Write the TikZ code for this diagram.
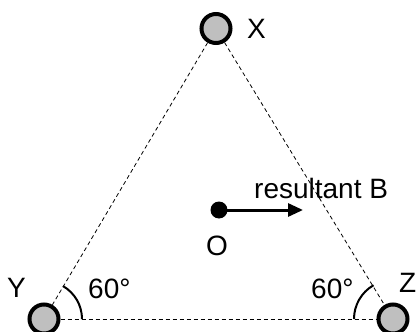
\documentclass[tikz,border=0pt]{standalone}
\usepackage{fontspec}
\setmainfont{Liberation Sans}
\usetikzlibrary{arrows.meta}
\begin{document}
\begin{tikzpicture}[x=1pt,y=-1pt,
  atom/.style={circle,draw=black,line width=4pt,fill=black!25,minimum size=29pt,inner sep=0pt},
  side/.style={draw,dashed,line width=0.8pt,dash pattern=on 4pt off 3pt},
  lbl/.style={font=\fontsize{28}{28}\selectfont,inner sep=0pt,anchor=base west},
  anglearc/.style={line width=2pt}]
\useasboundingbox (0,0) rectangle (416,332);
\node[atom] (X) at (216,28.5) {};
\node[atom] (Y) at (44,319) {};
\node[atom] (Z) at (393,319) {};
\draw[side] (X) -- (Y);
\draw[side] (X) -- (Z);
\draw[side] (Y) -- (Z);
\node[lbl] (lx) at (247,38) {X};
\node[lbl] (ly) at (7,297) {Y};
\node[lbl] (lz) at (399,292) {Z};
\draw[anglearc] ([shift={(0:38)}]Y.center) arc[start angle=0,end angle=-60,radius=38];
\draw[anglearc] ([shift={(180:39)}]Z.center) arc[start angle=180,end angle=240,radius=39];
\node[lbl] (a1) at (88,298) {60°};
\node[lbl] (a2) at (311,298) {60°};
\node[circle,fill=black,minimum size=17pt,inner sep=0pt] (O) at (219,210) {};
\coordinate (B) at (303,210);
\draw[line width=3pt,-{Triangle[length=15pt,width=13pt]}] (O.center) -- (B);
\node[lbl] (lo) at (206,255) {O};
\node[lbl] (lb) at (254,198) {resultant B};
\end{tikzpicture}
\end{document}
